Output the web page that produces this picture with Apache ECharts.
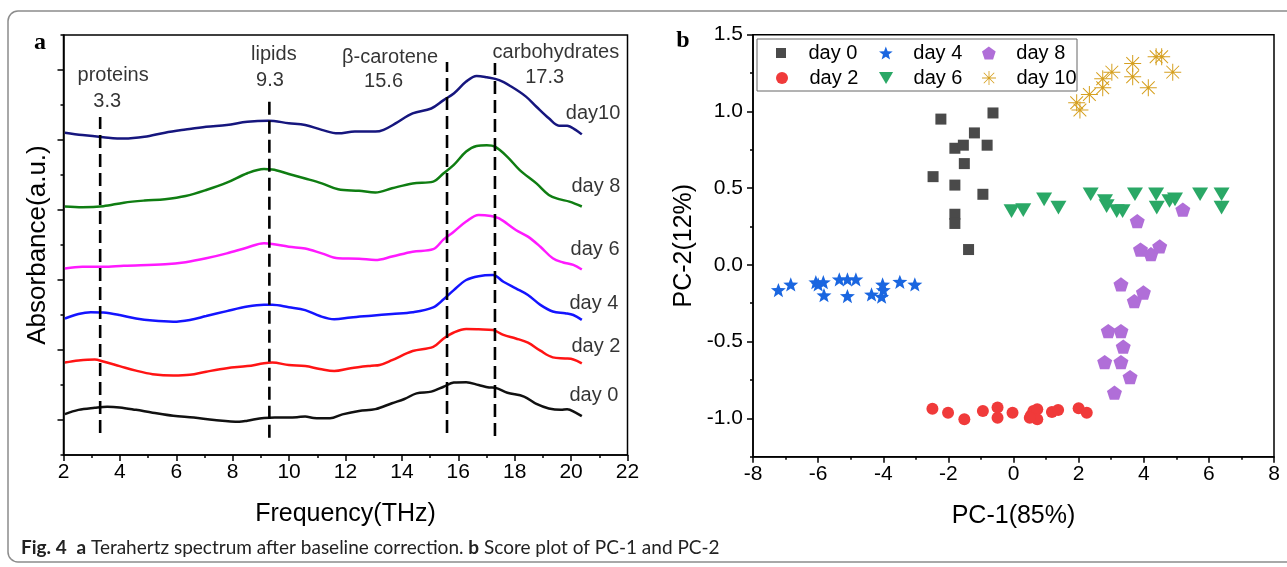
<!DOCTYPE html>
<html>
<head>
<meta charset="utf-8">
<script src="https://cdn.jsdelivr.net/npm/echarts@6/dist/echarts.min.js"></script>
<style>
html,body{margin:0;padding:0;background:#fff;}
#chart{width:1287px;height:567px;}
</style>
</head>
<body>
<div id="chart"></div>
<script>
// ---------- Panel a: Terahertz spectra (offset absorbance, a.u.) ----------
const day0Freq = [2.05,2.53,3.11,3.55,3.99,4.57,5.16,5.89,6.62,7.35,8.23,8.52,9.11,9.70,10.28,10.57,10.87,11.45,11.89,12.48,13.06,13.65,14.09,14.52,15.04,15.48,15.84,16.28,16.72,17.09,17.30,17.74,18.33,18.77,19.21,19.64,19.86,20.16,20.38];
const day0Abs  = [1.17,1.29,1.35,1.38,1.36,1.29,1.21,1.12,1.07,1.00,0.95,0.98,1.06,1.07,1.08,1.10,1.06,1.05,1.16,1.26,1.31,1.48,1.60,1.76,1.81,1.95,2.07,2.08,2.00,1.93,1.92,1.78,1.67,1.46,1.33,1.29,1.31,1.21,1.11];

const day2Freq = [2.05,2.53,3.11,3.41,3.99,4.57,5.16,5.89,6.48,7.06,7.79,8.52,9.11,9.40,9.99,10.57,11.09,11.60,12.18,12.92,13.21,13.65,14.38,15.11,15.48,15.84,16.28,16.72,17.23,17.60,18.04,18.47,18.91,19.35,19.79,20.08,20.38];
const day2Abs  = [2.64,2.70,2.73,2.67,2.54,2.41,2.31,2.27,2.29,2.38,2.48,2.54,2.62,2.64,2.57,2.54,2.46,2.40,2.48,2.55,2.57,2.71,2.97,3.09,3.33,3.50,3.60,3.59,3.57,3.43,3.33,3.21,2.98,2.79,2.76,2.73,2.62];

const day4Freq = [2.05,2.53,2.97,3.41,3.99,4.57,5.16,5.89,6.48,7.06,7.79,8.52,9.11,9.40,9.99,10.57,11.09,11.60,12.18,12.92,13.65,14.38,15.11,15.48,15.84,16.28,16.72,17.23,17.60,18.04,18.47,18.91,19.35,19.79,20.08,20.38];
const day4Abs  = [3.90,4.03,4.08,4.07,4.00,3.90,3.84,3.81,3.86,3.97,4.11,4.24,4.29,4.29,4.22,4.14,3.97,3.88,3.93,3.98,4.03,4.08,4.22,4.45,4.71,5.00,5.11,5.14,4.95,4.76,4.57,4.29,4.10,4.05,4.00,3.86];

const day6Freq = [2.05,2.67,3.41,4.14,5.60,6.33,7.06,7.79,8.52,9.11,9.40,9.99,10.57,11.16,11.74,12.48,13.06,13.65,14.38,15.11,15.48,15.84,16.28,16.72,17.16,17.45,18.04,18.47,18.91,19.35,19.72,20.08,20.38];
const day6Abs  = [5.33,5.38,5.38,5.41,5.45,5.51,5.62,5.76,5.93,6.05,6.03,5.95,5.90,5.76,5.62,5.61,5.57,5.67,5.81,5.88,6.16,6.38,6.67,6.86,6.83,6.76,6.43,6.24,5.95,5.62,5.50,5.43,5.30];

const day8Freq = [2.05,2.67,3.41,4.14,4.87,5.60,6.33,7.06,7.79,8.52,9.11,9.40,9.99,10.57,11.16,11.74,12.48,13.06,13.65,14.38,15.11,15.48,15.84,16.28,16.65,17.01,17.30,17.74,18.18,18.77,19.21,19.57,19.94,20.38];
const day8Abs  = [7.10,7.08,7.11,7.21,7.27,7.31,7.40,7.57,7.78,8.05,8.17,8.16,8.03,7.90,7.76,7.59,7.55,7.50,7.62,7.76,7.81,8.05,8.29,8.67,8.83,8.85,8.81,8.52,8.14,7.76,7.43,7.31,7.24,7.10];

const day10Freq = [2.05,2.67,3.41,4.14,4.87,5.60,6.33,7.06,7.79,8.52,9.26,9.99,10.57,11.16,11.74,12.33,13.06,13.35,13.79,14.38,15.04,15.48,15.84,16.28,16.65,17.01,17.45,17.89,18.40,18.77,19.21,19.57,19.86,20.16,20.38];
const day10Abs  = [9.21,9.14,9.08,9.04,9.09,9.21,9.30,9.38,9.43,9.52,9.55,9.48,9.43,9.29,9.19,9.24,9.24,9.29,9.48,9.76,9.90,10.14,10.33,10.67,10.83,10.79,10.71,10.52,10.24,9.95,9.62,9.41,9.41,9.29,9.16];

const spectrumNames = ['day 0','day 2','day 4','day 6','day 8','day10'];

// assignment markers (THz)
const markerFreqs  = [3.3, 9.3, 15.6, 17.3];
const markerNames  = ['proteins', 'lipids', 'β-carotene', 'carbohydrates'];
const markerTop    = [9.66, 10.23, 11.23, 11.2];
const markerBottom = [0.63, 0.49, 0.63, 0.54];

// ---------- Panel b: PCA scores [PC-1, PC-2] ----------
const scoreDay0 = [[-2.23,0.95],[-0.63,0.99],[-1.20,0.86],[-1.80,0.76],[-1.54,0.78],[-0.81,0.78],[-1.51,0.66],[-2.47,0.575],[-1.80,0.52],[-0.94,0.46],[-1.80,0.33],[-1.80,0.27],[-1.38,0.10]];
const scoreDay2 = [[-2.49,-0.937],[-2.01,-0.963],[-1.51,-1.006],[-0.94,-0.952],[-0.49,-0.93],[-0.49,-0.996],[-0.03,-0.963],[0.54,-0.98],[0.61,-0.952],[0.73,-0.941],[0.73,-1.006],[0.50,-0.996],[1.18,-0.959],[1.37,-0.946],[2.00,-0.935],[2.25,-0.963]];
const scoreDay4 = [[-7.22,-0.164],[-6.84,-0.127],[-6.07,-0.112],[-5.84,-0.112],[-6.00,-0.127],[-5.82,-0.197],[-5.35,-0.094],[-5.10,-0.094],[-4.84,-0.094],[-5.10,-0.203],[-4.36,-0.192],[-4.02,-0.127],[-4.00,-0.164],[-4.05,-0.207],[-3.49,-0.11],[-3.03,-0.127]];
const scoreDay6 = [[-0.06,0.35],[0.30,0.357],[0.94,0.427],[1.38,0.373],[2.37,0.46],[2.81,0.416],[2.86,0.383],[3.17,0.35],[3.35,0.35],[3.73,0.46],[4.38,0.46],[4.40,0.373],[4.79,0.416],[4.96,0.427],[5.73,0.46],[6.39,0.46],[6.39,0.373]];
const scoreDay8 = [[3.80,0.285],[5.20,0.36],[3.90,0.10],[4.22,0.07],[4.49,0.12],[3.30,-0.127],[3.99,-0.18],[3.71,-0.236],[2.91,-0.431],[3.30,-0.431],[3.37,-0.533],[2.80,-0.633],[3.30,-0.633],[3.58,-0.731],[3.10,-0.833]];
const scoreDay10 = [[1.94,1.057],[2.04,1.009],[2.33,1.111],[2.74,1.213],[2.74,1.154],[3.02,1.256],[3.66,1.313],[3.66,1.226],[4.14,1.154],[4.38,1.356],[4.55,1.356],[4.89,1.256]];
const scoreNames = ['day 0','day 2','day 4','day 6','day 8','day 10'];
const pc2TickValues = [-1.0,-0.5,0.0,0.5,1.0,1.5];

// ---------- styling ----------
const FONT = '"Liberation Sans", Arial, sans-serif';
const spectrumColors = ['#111111','#ff1414','#1414ff','#ff1aff','#0f7d12','#16167e'];
const scoreColors = ['#4a4a4a','#f03a3a','#1a66e0','#2aa866','#b06ed8','#d6a020'];
const SQUARE = 'path://M0,0 L10,0 L10,10 L0,10 Z';
const STAR = 'path://M10,0 L12.47,6.6 L19.51,6.91 L13.99,11.3 L15.88,18.09 L10,14.2 L4.12,18.09 L6.01,11.3 L0.49,6.91 L7.53,6.6 Z';
const PENTA = 'path://M10,0 L19.51,6.91 L15.88,18.09 L4.12,18.09 L0.49,6.91 Z';
const TRI_DOWN = 'path://M0,0 L20,0 L10,17 Z';
const ASTER = 'path://M0,9.4 L20,9.4 L20,10.6 L0,10.6 Z M9.4,0 L10.6,0 L10.6,20 L9.4,20 Z M2.08,2.92 L2.92,2.08 L17.92,17.08 L17.08,17.92 Z M17.08,2.08 L17.92,2.92 L2.92,17.92 L2.08,17.08 Z M8.4,8.4 L11.6,8.4 L11.6,11.6 L8.4,11.6 Z';
const scoreSymbols = [SQUARE,'circle',STAR,TRI_DOWN,PENTA,ASTER];
const scoreSizes = [11,12,15,16,15,17];
const legendIconSizes = [10,12,13,12,13,14];

// annotation placement (data coordinates of panel a)
const markerNamePos  = [[3.76,10.84],[9.46,11.43],[13.58,11.37],[19.46,11.51]];
const markerValuePos = [[3.55,10.09],[9.32,10.69],[13.35,10.66],[19.06,10.80]];
const dayLabelPos = [[20.81,1.71],[20.88,3.09],[20.81,4.34],[20.85,5.86],[20.88,7.66],[20.78,9.77]];

// legend layout (panel b): day 0/4/8 top row, day 2/6/10 bottom row
const legendLeft = [776, 776, 879, 879, 982, 982];
const legendTop  = [43, 68, 43, 68, 43, 68];

const zip = (a,b) => a.map((v,i)=>[v,b[i]]);
const spectra = [[day0Freq,day0Abs],[day2Freq,day2Abs],[day4Freq,day4Abs],[day6Freq,day6Abs],[day8Freq,day8Abs],[day10Freq,day10Abs]];
const scores = [scoreDay0,scoreDay2,scoreDay4,scoreDay6,scoreDay8,scoreDay10];

const series = [];
spectra.forEach((s,i)=>{
  series.push({type:'line', name:'spectrum '+spectrumNames[i], xAxisIndex:0, yAxisIndex:0,
    data: zip(s[0],s[1]), showSymbol:false, smooth:0.35, silent:true,
    lineStyle:{color:spectrumColors[i], width:2.5}, z:3});
});
markerFreqs.forEach((f,i)=>{
  series.push({type:'line', name:'marker '+markerNames[i], xAxisIndex:0, yAxisIndex:0,
    data:[[f,markerBottom[i]],[f,markerTop[i]]], showSymbol:false, silent:true,
    lineStyle:{color:'#000', width:2.6, type:[13,6]}, z:4});
});
const annot = [];
markerNames.forEach((n,i)=>{
  annot.push({value:markerNamePos[i], label:{formatter:n}});
  annot.push({value:markerValuePos[i], label:{formatter:String(markerFreqs[i])}});
});
spectrumNames.forEach((n,i)=>{ annot.push({value:dayLabelPos[i], label:{formatter:n}}); });
series.push({type:'scatter', name:'annotations', xAxisIndex:0, yAxisIndex:0, symbolSize:0, silent:true,
  data:annot, label:{show:true, position:'inside', fontSize:20, color:'#000', textBorderWidth:0, fontFamily:FONT}, z:5});

scores.forEach((d,i)=>{
  series.push({type:'scatter', name:scoreNames[i], xAxisIndex:1, yAxisIndex:2, data:d,
    symbol:scoreSymbols[i], symbolSize:scoreSizes[i], symbolKeepAspect:true,
    itemStyle:{color:scoreColors[i], opacity:1}, z:3});
});

const legends = scoreNames.map((n,i)=>({
  data:[{name:n, icon:scoreSymbols[i]}], left:legendLeft[i], top:legendTop[i], padding:0,
  itemWidth:45, itemHeight:legendIconSizes[i], itemGap:0, selectedMode:false, symbolKeepAspect:true,
  textStyle:{fontSize:20, color:'#000', lineHeight:20, fontFamily:FONT}, z:10
}));

const axisLineStyle = {color:'#000', width:1.5};
const option = {
  animation:false,
  backgroundColor:'#fff',
  textStyle:{fontFamily:FONT},
  grid:[
    {left:63.5, top:35, width:564, height:420, show:true, borderColor:'#000', borderWidth:1.5, backgroundColor:'transparent'},
    {left:753, top:34.7, width:521, height:422, show:true, borderColor:'#000', borderWidth:1.5, backgroundColor:'transparent'}
  ],
  xAxis:[
    {type:'value', gridIndex:0, min:2, max:22, interval:2,
     axisLine:{show:true, onZero:false, lineStyle:axisLineStyle},
     axisTick:{show:true, length:6, lineStyle:axisLineStyle},
     minorTick:{show:true, splitNumber:2, length:3, lineStyle:axisLineStyle},
     splitLine:{show:false},
     axisLabel:{fontSize:21, color:'#000', margin:7, fontFamily:FONT},
     name:'Frequency(THz)', nameLocation:'middle', nameGap:47,
     nameTextStyle:{fontSize:25, color:'#000', fontFamily:FONT}},
    {type:'value', gridIndex:1, min:-8, max:8, interval:2,
     axisLine:{show:true, onZero:false, lineStyle:axisLineStyle},
     axisTick:{show:true, length:6, lineStyle:axisLineStyle},
     minorTick:{show:true, splitNumber:2, length:3, lineStyle:axisLineStyle},
     splitLine:{show:false},
     axisLabel:{fontSize:21, color:'#000', margin:7, fontFamily:FONT},
     name:'PC-1(85%)', nameLocation:'middle', nameGap:47,
     nameTextStyle:{fontSize:25, color:'#000', fontFamily:FONT}}
  ],
  yAxis:[
    {type:'value', gridIndex:0, min:0, max:12, interval:2, position:'left',
     axisLine:{show:true, onZero:false, lineStyle:axisLineStyle},
     axisTick:{show:true, length:3, lineStyle:axisLineStyle},
     splitLine:{show:false}, axisLabel:{show:false},
     name:'Absorbance(a.u.)', nameLocation:'middle', nameGap:13, nameRotate:90,
     nameTextStyle:{fontSize:26, color:'#000', fontFamily:FONT}},
    {type:'value', gridIndex:0, min:0, max:12, position:'left', offset:0,
     axisLine:{show:false, onZero:false},
     axisTick:{show:true, length:6, customValues:[1,3,5,7,9,11], lineStyle:axisLineStyle},
     splitLine:{show:false}, axisLabel:{show:false}},
    {type:'value', gridIndex:1, min:-1.25, max:1.5, interval:0.25, position:'left',
     axisLine:{show:true, onZero:false, lineStyle:axisLineStyle},
     axisTick:{show:true, length:3, lineStyle:axisLineStyle},
     splitLine:{show:false}, axisLabel:{show:false},
     name:'PC-2(12%)', nameLocation:'middle', nameGap:56, nameRotate:90,
     nameTextStyle:{fontSize:25, color:'#000', fontFamily:FONT}},
    {type:'value', gridIndex:1, min:-1.25, max:1.5, position:'left', offset:0,
     axisLine:{show:false, onZero:false},
     axisTick:{show:true, length:6, customValues:pc2TickValues, lineStyle:axisLineStyle},
     splitLine:{show:false},
     axisLabel:{show:true, customValues:pc2TickValues, fontSize:21, color:'#000', margin:10, fontFamily:FONT,
       formatter:v=>Number(v).toFixed(1)}}
  ],
  legend:legends,
  graphic:[
    {type:'rect', shape:{x:8, y:11, width:1300, height:551, r:10}, style:{fill:'none', stroke:'#8c8c8c', lineWidth:1.5}, silent:true, z:0},
    {type:'rect', shape:{x:757, y:39, width:320, height:52}, style:{fill:'#fff', stroke:'#666', lineWidth:1}, silent:true, z:5},
    {type:'text', x:40, y:43, style:{text:'a', font:'bold 24px "Liberation Serif", serif', fill:'#000', align:'center', verticalAlign:'middle'}, z:6},
    {type:'text', x:683, y:41, style:{text:'b', font:'bold 24px "Liberation Serif", serif', fill:'#000', align:'center', verticalAlign:'middle'}, z:6},
    {type:'text', x:21, y:548, style:{
      text:'{b|Fig. 4}  {b|a} Terahertz spectrum after baseline correction. {b|b} Score plot of PC-1 and PC-2',
      font:'19px Lato, sans-serif', fill:'#222', verticalAlign:'middle',
      rich:{b:{fontWeight:'bold', fontSize:19, fontFamily:'Lato, sans-serif', fill:'#222'}}}, z:6}
  ],
  series:series
};
const chart = echarts.init(document.getElementById('chart'), null, {renderer:'canvas'});
chart.setOption(option);
</script>
</body>
</html>
